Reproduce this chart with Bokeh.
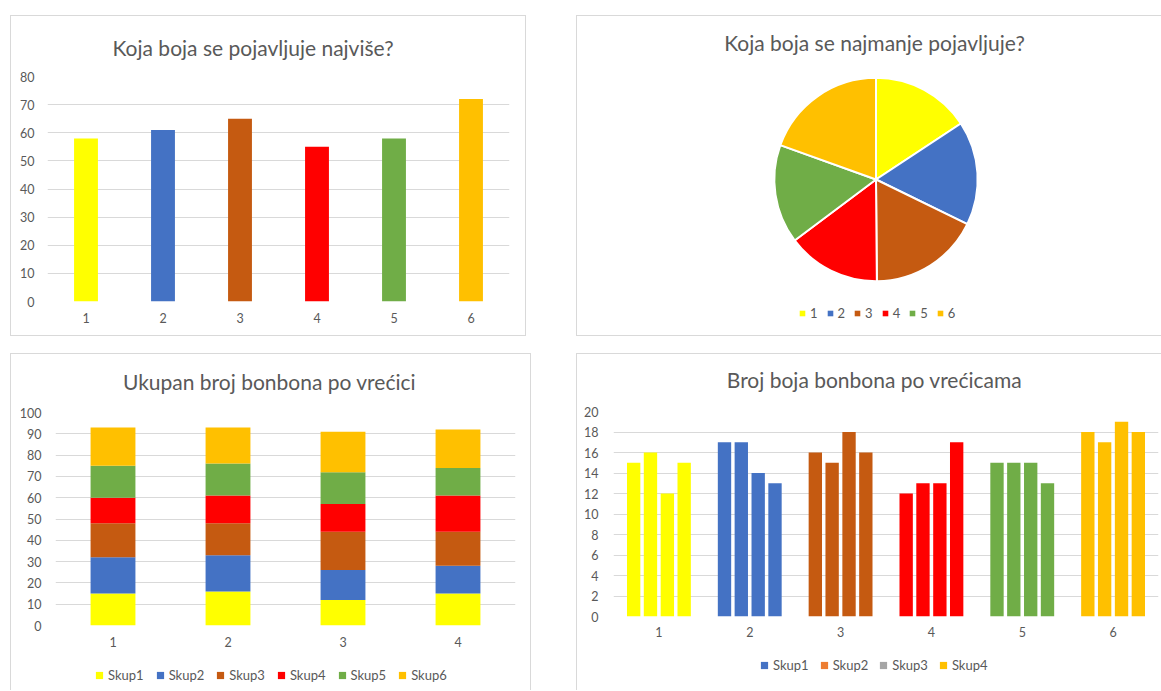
import numpy as np
from bokeh.plotting import figure
from bokeh.layouts import row, column
from bokeh.models import (ColumnDataSource, FactorRange, Range1d, Label, Legend,
                          LegendItem, Spacer, SingleIntervalTicker, Title)
from bokeh.transform import dodge
from bokeh.embed import file_html
from bokeh.resources import INLINE

# ---------------- data ----------------
colour_labels = ["1", "2", "3", "4", "5", "6"]
colour_totals = [58, 61, 65, 55, 58, 72]          # chart 1 and pie
bag_labels = ["1", "2", "3", "4"]
# candies of each colour in bags 1..4
skup1_yellow = [15, 16, 12, 15]
skup2_blue = [17, 17, 14, 13]
skup3_brown = [16, 15, 18, 16]
skup4_red = [12, 13, 13, 17]
skup5_green = [15, 15, 15, 13]
skup6_gold = [18, 17, 19, 18]
stack_names = ["Skup1", "Skup2", "Skup3", "Skup4", "Skup5", "Skup6"]
bag_series_names = ["Skup1", "Skup2", "Skup3", "Skup4"]

title1 = "Koja boja se pojavljuje najviše?"
title2 = "Koja boja se najmanje pojavljuje?"
title3 = "Ukupan broj bonbona po vrećici"
title4 = "Broj boja bonbona po vrećicama"

palette = ["#FFFF00", "#4472C4", "#C55A11", "#FF0000", "#70AD47", "#FFC000"]
legend4_colors = ["#4472C4", "#ED7D31", "#A5A5A5", "#FFC000"]

FONT = "Lato"
TXT = "#595959"
GRID = "#D9D9D9"
BORDER = "1px solid #D9D9D9"
TITLE_FS = "21px"
TICK_FS = "12.5px"
LEG_FS = "13px"


def make_fig(w, h, xr, yr, left, right, top, bottom, css, axes=True):
    kw = {}
    if not axes:
        kw = dict(x_axis_location=None, y_axis_location=None)
    p = figure(width=w, height=h, x_range=xr, y_range=yr,
               output_backend="svg", toolbar_location=None,
               min_border_left=left, min_border_right=right,
               min_border_top=top, min_border_bottom=bottom,
               background_fill_color="white", border_fill_color="white",
               outline_line_color=None, styles=css, frame_align=False, **kw)
    return p


def blank_fig(w, h, css):
    """A frame-only canvas used to hold a title label or a legend."""
    p = make_fig(w, h, Range1d(0, 1), Range1d(0, 1), 0, 0, 0, 0, css, axes=False)
    p.grid.grid_line_color = None
    return p


def style_axes(p, interval, ystand, xstand):
    p.yaxis.ticker = SingleIntervalTicker(interval=interval, num_minor_ticks=0)
    for ax in p.axis:
        ax.axis_line_color = None
        ax.major_tick_line_color = None
        ax.minor_tick_line_color = None
        ax.major_tick_out = 0
        ax.major_tick_in = 0
        ax.major_label_text_font = FONT
        ax.major_label_text_font_size = TICK_FS
        ax.major_label_text_color = TXT
    p.yaxis.major_label_standoff = ystand
    p.xaxis.major_label_standoff = xstand
    p.xgrid.grid_line_color = None
    p.ygrid.grid_line_color = GRID
    p.ygrid.grid_line_width = 1


def title_label(p, text, x, y):
    p.add_layout(Label(x=x, y=y, x_units="screen", y_units="screen", text=text,
                       text_align="center", text_baseline="middle",
                       text_font=FONT, text_font_size=TITLE_FS, text_color=TXT))


def add_legend(p, labels, colors, loc, gsize, standoff, spacing, label_width,
               hidden_xy):
    # square swatches; their proxy points lie outside the visible ranges
    items = []
    for lab, col in zip(labels, colors):
        r = p.scatter(x=[hidden_xy[0]], y=[hidden_xy[1]], marker="square", size=6,
                      fill_color=col, line_color=None)
        items.append(LegendItem(label=lab, renderers=[r]))
    p.add_layout(Legend(items=items, location=loc, orientation="horizontal",
                        glyph_width=gsize, glyph_height=gsize, label_height=gsize,
                        label_width=label_width,
                        label_standoff=standoff, spacing=spacing, padding=0, margin=0,
                        border_line_color=None, background_fill_alpha=0,
                        label_text_font=FONT, label_text_font_size=LEG_FS,
                        label_text_color=TXT))


# ---------------- chart 1: totals per colour ----------------
p1 = make_fig(516, 321, FactorRange(*colour_labels), Range1d(0, 80),
              36, 18, 57, 36, {"border": BORDER})
src1 = ColumnDataSource(dict(cat=colour_labels, val=colour_totals, col=palette))
p1.vbar(x="cat", top="val", width=0.31, fill_color="col", line_color=None, source=src1)
style_axes(p1, 10, 13, 11)
p1.title = Title(text=title1, align="left", offset=65, standoff=33,
                 text_font=FONT, text_font_size=TITLE_FS,
                 text_font_style="normal", text_color=TXT)

# ---------------- chart 2: pie ----------------
# the whole canvas is the frame; ranges place the pie where the reference has it
p2 = make_fig(585, 321, Range1d(-2.936, 2.818), Range1d(-1.547, 1.596), 0, 0, 0, 0,
              {"border-top": BORDER, "border-left": BORDER, "border-bottom": BORDER},
              axes=False)
fr = np.array(colour_totals, dtype=float) / float(sum(colour_totals))
ends = np.cumsum(fr)
starts = ends - fr
src2 = ColumnDataSource(dict(label=colour_labels, color=palette,
                             start=np.pi / 2 - starts * 2 * np.pi,
                             end=np.pi / 2 - ends * 2 * np.pi))
p2.wedge(x=0, y=0, radius=1, start_angle="start", end_angle="end",
         direction="clock", fill_color="color", line_color="white",
         line_width=2, source=src2)
p2.grid.grid_line_color = None
title_label(p2, title2, 297, 295)
add_legend(p2, colour_labels, palette, (218, 16), 14, 1, 5, 0, (10, 10))

# ---------------- chart 3: stacked per bag ----------------
t3 = blank_fig(521, 47, {"border-top": BORDER, "border-left": BORDER,
                         "border-right": BORDER})
title_label(t3, title3, 258, 20)

p3 = make_fig(521, 258, FactorRange(*bag_labels), Range1d(0, 100),
              44, 17, 12, 33, {"border-left": BORDER, "border-right": BORDER})
src3 = ColumnDataSource(dict(bag=bag_labels, Skup1=skup1_yellow, Skup2=skup2_blue,
                             Skup3=skup3_brown, Skup4=skup4_red,
                             Skup5=skup5_green, Skup6=skup6_gold))
p3.vbar_stack(stack_names, x="bag", width=0.39, fill_color=palette,
              line_color=None, source=src3)
style_axes(p3, 10, 14, 11)

l3 = blank_fig(521, 32, {"border-left": BORDER, "border-right": BORDER})
add_legend(l3, stack_names, palette, (79, 6), 18, 0, 7, 20, (5, 5))

# ---------------- chart 4: grouped per colour ----------------
t4 = blank_fig(585, 47, {"border-top": BORDER, "border-left": BORDER})
title_label(t4, title4, 297, 22)

p4 = make_fig(585, 258, FactorRange(*colour_labels), Range1d(0, 20),
              36, 4, 11, 42, {"border-left": BORDER})
per_colour = [skup1_yellow, skup2_blue, skup3_brown, skup4_red, skup5_green, skup6_gold]
data4 = dict(colour=colour_labels, fill=palette)
for j, name in enumerate(bag_series_names):
    data4[name] = [c[j] for c in per_colour]
src4 = ColumnDataSource(data4)
offsets = [-0.278, -0.093, 0.093, 0.278]
for name, off in zip(bag_series_names, offsets):
    p4.vbar(x=dodge("colour", off, range=p4.x_range), top=name, width=0.147,
            fill_color="fill", line_color=None, source=src4)
style_axes(p4, 2, 15, 10)

l4 = blank_fig(585, 32, {"border-left": BORDER})
add_legend(l4, bag_series_names, legend4_colors, (178, 16), 18, 0, 6, 20, (5, 5))

layout = column(
    Spacer(width=1, height=15),
    row(Spacer(width=10, height=1), p1, Spacer(width=50, height=1), p2),
    Spacer(width=1, height=17),
    row(Spacer(width=10, height=1), column(t3, p3, l3),
        Spacer(width=45, height=1), column(t4, p4, l4)),
)

open("out.html", "w").write(file_html(layout, INLINE))
